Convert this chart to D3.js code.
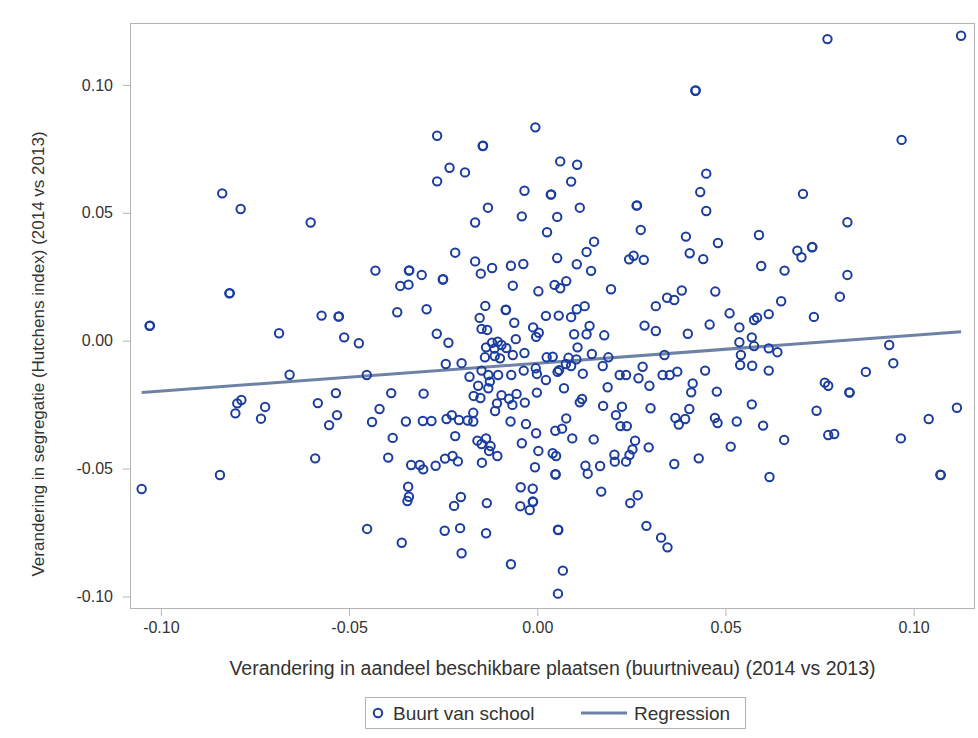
<!DOCTYPE html>
<html>
<head>
<meta charset="utf-8">
<script src="https://cdn.jsdelivr.net/npm/d3@7"></script>
<style>
  body { margin: 0; background: #fff; }
  svg text { font-family: "Liberation Sans", Arial, sans-serif; fill: #333; }
</style>
</head>
<body>
<svg id="chart" width="978" height="738"></svg>
<script>
// Change in share of available places per neighbourhood (2014 vs 2013)
const changeShare = [
  -0.0837,-0.0788,-0.0602,-0.0266,-0.0145,-0.0005,-0.0233,-0.0192,-0.0266,-0.0034,
   0.0036,-0.0131,-0.0041,-0.0165, 0.0420, 0.0061, 0.0106, 0.0090, 0.0113, 0.0053,
   0.0264, 0.0449, 0.0433, 0.0449, 0.0275, 0.0771, 0.1126, 0.0968, 0.0706, 0.0824,
  -0.0818,-0.1030,-0.0573,-0.0528,-0.0686,-0.0513,-0.0658,-0.0535,-0.0786,-0.0797,
  -0.0802,-0.0723,-0.0734,-0.0583,-0.0532,-0.0553,-0.0590,-0.0843,-0.1051, 0.0026,
  -0.0430,-0.0341,-0.0307,-0.0364,-0.0342,-0.0251,-0.0218,-0.0165,-0.0150,-0.0120,
  -0.0070,-0.0037,-0.0065, 0.0003,-0.0372,-0.0294,-0.0138,-0.0084,-0.0153,-0.0061,
   0.0023,-0.0148,-0.0133,-0.0011, 0.0004,-0.0003,-0.0474,-0.0267,-0.0236,-0.0057,
  -0.0136,-0.0120,-0.0105,-0.0095,-0.0082,-0.0114,-0.0139,-0.0113,-0.0099,-0.0065,
  -0.0034, 0.0025, 0.0041,-0.0243,-0.0201,-0.0453,-0.0148,-0.0130,-0.0104,-0.0126,
  -0.0180,-0.0069,-0.0036,-0.0004,-0.0001,-0.0157,-0.0130, 0.0023,-0.0388,-0.0302,
  -0.0169,-0.0151,-0.0095,-0.0055,-0.0075,-0.0001,-0.0033,-0.0107,-0.0066,-0.0419,
  -0.0112,-0.0439,-0.0349,-0.0304,-0.0281,-0.0241,-0.0227,-0.0208,-0.0185,-0.0170,
  -0.0170,-0.0071,-0.0030,-0.0003,-0.0384,-0.0396,-0.0335,-0.0312,-0.0303,-0.0270,
  -0.0245,-0.0225,-0.0211,-0.0218,-0.0159,-0.0136,-0.0148,-0.0124,-0.0128,-0.0106,
  -0.0147,-0.0041, 0.0003,-0.0006,-0.0343,-0.0341,-0.0345,-0.0203,-0.0221,-0.0134,
  -0.0044,-0.0012,-0.0045,-0.0012,-0.0020,-0.0452,-0.0360,-0.0246,-0.0205,-0.0136,
  -0.0201,-0.0070, 0.0048, 0.0066, 0.0077, 0.0093, 0.0150, 0.0221, 0.0238, 0.0041,
   0.0050, 0.0048, 0.0128, 0.0134, 0.0167, 0.0205, 0.0206, 0.0236, 0.0245, 0.0253,
   0.0260, 0.0296, 0.0364, 0.0429, 0.0514, 0.0367, 0.0376, 0.0393, 0.0472, 0.0479,
   0.0530, 0.0170, 0.0247, 0.0267, 0.0290, 0.0329, 0.0346, 0.0055, 0.0068, 0.0055,
   0.0600, 0.0656, 0.0773, 0.0789, 0.0966, 0.0617, 0.1071, 0.1040, 0.0053, 0.0131,
   0.0105, 0.0143, 0.0244, 0.0256, 0.0283, 0.0395, 0.0480, 0.0589, 0.0405, 0.0441,
   0.0046, 0.0061, 0.0077, 0.0196, 0.0345, 0.0364, 0.0384, 0.0473, 0.0315, 0.0057,
   0.0090, 0.0105, 0.0126, 0.0511, 0.0139, 0.0131, 0.0098, 0.0178, 0.0285, 0.0315,
   0.0400, 0.0458, 0.0537, 0.0537, 0.0541, 0.0539, 0.0107, 0.0145, 0.0083, 0.0104,
   0.0076, 0.0090, 0.0189, 0.0174, 0.0338, 0.0280, 0.0058, 0.0054, 0.0121, 0.0219,
   0.0236, 0.0269, 0.0333, 0.0352, 0.0372, 0.0446, 0.0298, 0.0413, 0.0409, 0.0477,
   0.0071, 0.0187, 0.0119, 0.0113, 0.0175, 0.0225, 0.0209, 0.0301, 0.0404, 0.0570,
   0.0691, 0.0702, 0.0730, 0.0595, 0.0657, 0.0824, 0.0804, 0.0648, 0.0615, 0.0735,
   0.0576, 0.0584, 0.0570, 0.0576, 0.0615, 0.0638, 0.0935, 0.0946, 0.0571, 0.0615,
   0.0873, 0.0764, 0.0773, 0.0829, 0.1115, 0.0742,
  -0.0144, 0.0421, 0.0265,-0.0817,-0.1029,-0.0527,-0.0340,-0.0250,-0.0083, 0.0151,
   0.0049, 0.0056, 0.1072, 0.0731, 0.0830, 0.0037,-0.0011
];

// Change in segregation, Hutchens index (2014 vs 2013)
const changeSegregation = [
   0.0576, 0.0515, 0.0462, 0.0801, 0.0761, 0.0834, 0.0676, 0.0658, 0.0623, 0.0586,
   0.0571, 0.0520, 0.0486, 0.0462, 0.0977, 0.0701, 0.0688, 0.0622, 0.0520, 0.0484,
   0.0528, 0.0653, 0.0581, 0.0507, 0.0433, 0.1179, 0.1192, 0.0785, 0.0574, 0.0463,
   0.0185, 0.0058, 0.0098, 0.0094, 0.0029, 0.0013,-0.0133,-0.0205,-0.0232,-0.0245,
  -0.0284,-0.0259,-0.0305,-0.0244,-0.0291,-0.0330,-0.0460,-0.0525,-0.0580, 0.0424,
   0.0274, 0.0274, 0.0257, 0.0214, 0.0219, 0.0239, 0.0344, 0.0310, 0.0262, 0.0284,
   0.0293, 0.0300, 0.0215, 0.0193, 0.0111, 0.0123, 0.0136, 0.0120, 0.0089, 0.0070,
   0.0097, 0.0046, 0.0042, 0.0052, 0.0031, 0.0015,-0.0010, 0.0027,-0.0008, 0.0006,
  -0.0026,-0.0008,-0.0004,-0.0017,-0.0029,-0.0031,-0.0065,-0.0060,-0.0069,-0.0056,
  -0.0048,-0.0065,-0.0063,-0.0091,-0.0088,-0.0134,-0.0117,-0.0134,-0.0134,-0.0160,
  -0.0141,-0.0134,-0.0117,-0.0108,-0.0130,-0.0176,-0.0186,-0.0154,-0.0205,-0.0207,
  -0.0216,-0.0224,-0.0213,-0.0208,-0.0227,-0.0203,-0.0242,-0.0245,-0.0251,-0.0267,
  -0.0275,-0.0318,-0.0316,-0.0314,-0.0314,-0.0306,-0.0291,-0.0310,-0.0312,-0.0282,
  -0.0316,-0.0316,-0.0326,-0.0362,-0.0380,-0.0457,-0.0486,-0.0486,-0.0503,-0.0489,
  -0.0461,-0.0451,-0.0472,-0.0373,-0.0391,-0.0382,-0.0404,-0.0412,-0.0431,-0.0451,
  -0.0477,-0.0401,-0.0431,-0.0495,-0.0571,-0.0610,-0.0627,-0.0611,-0.0646,-0.0635,
  -0.0573,-0.0579,-0.0647,-0.0629,-0.0662,-0.0736,-0.0790,-0.0743,-0.0733,-0.0753,
  -0.0831,-0.0874,-0.0352,-0.0344,-0.0304,-0.0382,-0.0386,-0.0334,-0.0334,-0.0440,
  -0.0451,-0.0522,-0.0489,-0.0520,-0.0490,-0.0446,-0.0473,-0.0473,-0.0447,-0.0425,
  -0.0391,-0.0417,-0.0482,-0.0460,-0.0414,-0.0302,-0.0328,-0.0306,-0.0302,-0.0322,
  -0.0316,-0.0590,-0.0635,-0.0604,-0.0724,-0.0770,-0.0808,-0.0739,-0.0899,-0.0989,
  -0.0332,-0.0388,-0.0369,-0.0365,-0.0382,-0.0533,-0.0524,-0.0306, 0.0323, 0.0347,
   0.0299, 0.0273, 0.0318, 0.0332, 0.0316, 0.0407, 0.0382, 0.0413, 0.0342, 0.0319,
   0.0218, 0.0205, 0.0233, 0.0201, 0.0168, 0.0159, 0.0196, 0.0192, 0.0135, 0.0098,
   0.0092, 0.0123, 0.0135, 0.0107, 0.0058, 0.0025, 0.0025, 0.0021, 0.0059, 0.0038,
   0.0027, 0.0063, 0.0052,-0.0006,-0.0056,-0.0095,-0.0026,-0.0052,-0.0067,-0.0073,
  -0.0091,-0.0099,-0.0065,-0.0099,-0.0056,-0.0102,-0.0115,-0.0122,-0.0129,-0.0134,
  -0.0134,-0.0147,-0.0134,-0.0134,-0.0121,-0.0117,-0.0176,-0.0167,-0.0202,-0.0199,
  -0.0186,-0.0182,-0.0228,-0.0241,-0.0255,-0.0258,-0.0291,-0.0264,-0.0267,-0.0249,
   0.0352, 0.0326, 0.0365, 0.0292, 0.0274, 0.0257, 0.0172, 0.0154, 0.0104, 0.0093,
   0.0081, 0.0090, 0.0013,-0.0021,-0.0030,-0.0045,-0.0017,-0.0088,-0.0098,-0.0117,
  -0.0122,-0.0164,-0.0176,-0.0202,-0.0262,-0.0274,
   0.0762, 0.0978, 0.0529, 0.0186, 0.0059, 0.0095, 0.0275, 0.0240, 0.0121, 0.0387,
  -0.0523,-0.0740,-0.0525, 0.0366,-0.0203, 0.0572,-0.0630
];

// Fitted regression line, evaluated at the smallest and largest x
const regressionX = [-0.1051, 0.1126];
const regressionY = [-0.0203, 0.0035];

const xTickValues = [-0.10, -0.05, 0.00, 0.05, 0.10];
const yTickValues = [-0.10, -0.05, 0.00, 0.05, 0.10];

const xTitle = "Verandering in aandeel beschikbare plaatsen (buurtniveau) (2014 vs 2013)";
const yTitle = "Verandering in segregatie (Hutchens index) (2014 vs 2013)";
const legendLabels = ["Buurt van school", "Regression"];

const markerColor = "#1a3d9f";
const fitColor = "#6e82a6";
const frameColor = "#b4b4b4";

const plot = { left: 130, top: 23, right: 975, bottom: 609 };

const svg = d3.select("#chart");

const x = d3.scaleLinear().domain([-0.1082, 0.1163]).range([plot.left, plot.right]);
const y = d3.scaleLinear().domain([-0.1049, 0.1242]).range([plot.bottom, plot.top]);

const fmt = v => v.toFixed(2);

// Plot frame
svg.append("rect")
  .attr("x", plot.left + 0.5).attr("y", plot.top + 0.5)
  .attr("width", plot.right - plot.left - 1).attr("height", plot.bottom - plot.top - 1)
  .attr("fill", "none").attr("stroke", frameColor).attr("stroke-width", 1);

// Axes
const xAxis = svg.append("g")
  .attr("transform", `translate(0,${plot.bottom})`)
  .call(d3.axisBottom(x).tickValues(xTickValues).tickFormat(fmt).tickSize(7).tickSizeOuter(0).tickPadding(6));
const yAxis = svg.append("g")
  .attr("transform", `translate(${plot.left},0)`)
  .call(d3.axisLeft(y).tickValues(yTickValues).tickFormat(fmt).tickSize(7).tickSizeOuter(0).tickPadding(10));

[xAxis, yAxis].forEach(g => {
  g.select(".domain").remove();
  g.selectAll(".tick line").attr("stroke", frameColor);
  g.selectAll(".tick text").attr("fill", "#333").style("font-size", "16px")
    .style("font-family", '"Liberation Sans", Arial, sans-serif');
});

// Axis titles
svg.append("text")
  .attr("x", (plot.left + plot.right) / 2).attr("y", 675)
  .attr("text-anchor", "middle").style("font-size", "19.5px")
  .text(xTitle);
svg.append("text")
  .attr("transform", `translate(44,354) rotate(-90)`)
  .attr("text-anchor", "middle").style("font-size", "17px")
  .text(yTitle);

// Regression line
svg.append("line")
  .attr("x1", x(regressionX[0])).attr("y1", y(regressionY[0]))
  .attr("x2", x(regressionX[1])).attr("y2", y(regressionY[1]))
  .attr("stroke", fitColor).attr("stroke-width", 3);

// Scatter markers
const points = changeShare.map((v, i) => ({ x: v, y: changeSegregation[i] }));
svg.append("g").selectAll("circle").data(points).join("circle")
  .attr("cx", d => x(d.x)).attr("cy", d => y(d.y)).attr("r", 4.2)
  .attr("fill", "none").attr("stroke", markerColor).attr("stroke-width", 2);

// Legend
const legend = svg.append("g");
legend.append("rect")
  .attr("x", 365.5).attr("y", 697.5).attr("width", 380).attr("height", 31)
  .attr("fill", "none").attr("stroke", frameColor);
legend.append("circle")
  .attr("cx", 378).attr("cy", 713).attr("r", 4.2)
  .attr("fill", "none").attr("stroke", markerColor).attr("stroke-width", 2);
legend.append("text").attr("x", 393).attr("y", 719.5).style("font-size", "19px").text(legendLabels[0]);
legend.append("line")
  .attr("x1", 581).attr("y1", 713).attr("x2", 627).attr("y2", 713)
  .attr("stroke", fitColor).attr("stroke-width", 3);
legend.append("text").attr("x", 634).attr("y", 719.5).style("font-size", "19px").text(legendLabels[1]);
</script>
</body>
</html>
